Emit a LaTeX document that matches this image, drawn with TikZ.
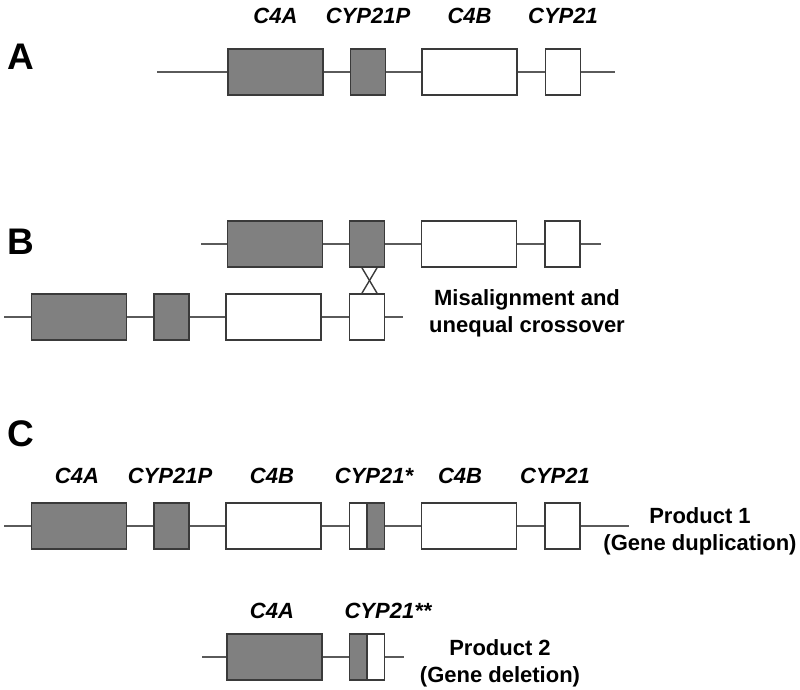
\documentclass[tikz,border=0pt]{standalone}
\usepackage{fontspec}
\usepackage{xcolor}
\usepackage{tikz}
\usetikzlibrary{calc}
\newfontfamily\arialfont{Liberation Sans}
\definecolor{exon}{HTML}{808080}
\definecolor{rim}{HTML}{3A3A3A}
\definecolor{wire}{HTML}{5A5A5A}
\tikzset{
  gene/.style={draw=rim, line width=1.8pt, fill=exon, inner sep=0pt, minimum height=46pt},
  big/.style={gene, minimum width=95pt},
  small/.style={gene, minimum width=35pt},
  pale/.style={fill=white},
  halfR/.style={fill=white, path picture={
      \fill[exon] (path picture bounding box.north) rectangle (path picture bounding box.south east);
      \draw[rim, line width=1.2pt] (path picture bounding box.north) -- (path picture bounding box.south);}},
  halfL/.style={fill=white, path picture={
      \fill[exon] (path picture bounding box.north west) rectangle (path picture bounding box.south);
      \draw[rim, line width=1.2pt] (path picture bounding box.north) -- (path picture bounding box.south);}},
  wire/.style={draw=wire, line width=1.5pt},
  cross/.style={draw=rim, line width=1.4pt},
  glab/.style={anchor=base, inner sep=0pt, font=\arialfont\bfseries\itshape\fontsize{22}{26}\selectfont},
  note/.style={anchor=base, inner sep=0pt, align=center, font=\arialfont\bfseries\fontsize{22}{27}\selectfont},
  panel/.style={anchor=base west, inner sep=0pt, font=\arialfont\bfseries\fontsize{37}{40}\selectfont},
}
\begin{document}
\begin{tikzpicture}[x=1pt, y=-1pt]
  \useasboundingbox (0,0) rectangle (800,690);

  % A: normal haplotype
  \node[panel] (pA) at (7,70) {A};
  \coordinate (sA) at (157,72);
  \coordinate (eA) at (615,72);
  \node[big] (a1) at (275.5,72) {};
  \node[small] (a2) at (368,72) {};
  \node[big, pale] (a3) at (469.5,72) {};
  \node[small, pale] (a4) at (563,72) {};
  \draw[wire] (sA) -- (a1) -- (a2) -- (a3) -- (a4) -- (eA);
  \node[glab] (la1) at (275.5,24) {C4A};
  \node[glab] (la2) at (368,24) {CYP21P};
  \node[glab] (la3) at (469.5,24) {C4B};
  \node[glab] (la4) at (563,24) {CYP21};

  % B: misaligned pair
  \node[panel] (pB) at (7,254) {B};
  \coordinate (sB) at (201,244);
  \coordinate (eB) at (601,244);
  \node[big] (b1) at (275,244) {};
  \node[small] (b2) at (367,244) {};
  \node[big, pale] (b3) at (469,244) {};
  \node[small, pale] (b4) at (562.5,244) {};
  \draw[wire] (sB) -- (b1) -- (b2) -- (b3) -- (b4) -- (eB);

  \coordinate (sb) at (4,317);
  \coordinate (eb) at (403,317);
  \node[big] (c1) at (79,317) {};
  \node[small] (c2) at (171.5,317) {};
  \node[big, pale] (c3) at (273.5,317) {};
  \node[small, pale] (c4) at (367,317) {};
  \draw[wire] (sb) -- (c1) -- (c2) -- (c3) -- (c4) -- (eb);

  \draw[cross] ([xshift=-5pt]b2.south) -- ([xshift=10pt]c4.north);
  \draw[cross] ([xshift=10pt]b2.south) -- ([xshift=-5pt]c4.north);
  \node[note] (nB) at (527,332) {Misalignment and\\unequal crossover};

  % C: products
  \node[panel] (pC) at (7,446) {C};
  \coordinate (sC) at (4,526);
  \coordinate (eC) at (629,526);
  \node[big] (d1) at (79,526) {};
  \node[small] (d2) at (171.5,526) {};
  \node[big, pale] (d3) at (273.5,526) {};
  \node[small, halfR] (d4) at (367,526) {};
  \node[big, pale] (d5) at (469,526) {};
  \node[small, pale] (d6) at (562.5,526) {};
  \draw[wire] (sC) -- (d1) -- (d2) -- (d3) -- (d4) -- (d5) -- (d6) -- (eC);
  \node[glab] (ld1) at (77,483) {C4A};
  \node[glab] (ld2) at (170,483) {CYP21P};
  \node[glab] (ld3) at (272,483) {C4B};
  \node[glab] (ld4) at (374,483) {CYP21*};
  \node[glab] (ld5) at (460,483) {C4B};
  \node[glab] (ld6) at (555,483) {CYP21};
  \node[note] (nC) at (700,550) {Product 1\\(Gene duplication)};

  \coordinate (sD) at (202,657);
  \coordinate (eD) at (404,657);
  \node[big] (e1) at (274.5,657) {};
  \node[small, halfL] (e2) at (367,657) {};
  \draw[wire] (sD) -- (e1) -- (e2) -- (eD);
  \node[glab] (le1) at (272,618) {C4A};
  \node[glab] (le2) at (388,618) {CYP21**};
  \node[note] (nD) at (500,682) {Product 2\\(Gene deletion)};
\end{tikzpicture}
\end{document}
